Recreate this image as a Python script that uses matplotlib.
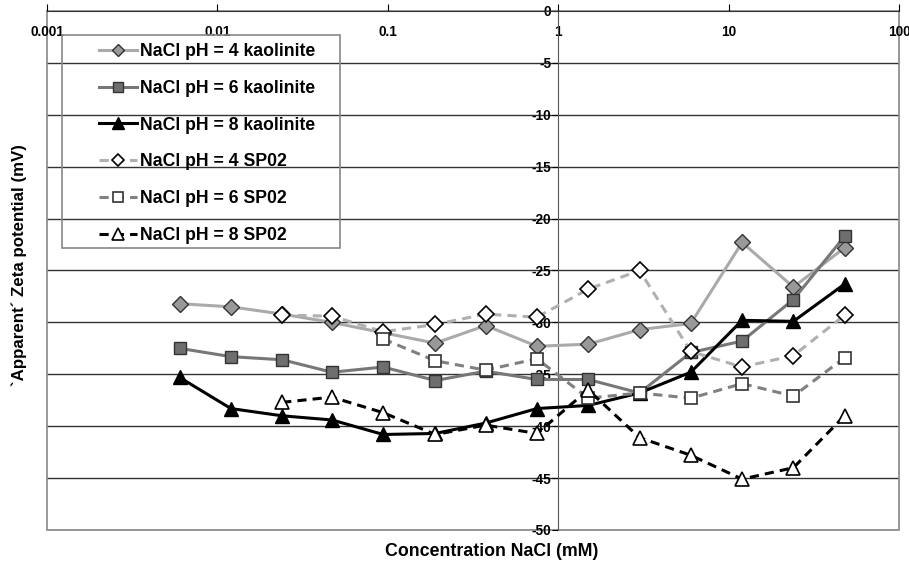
import matplotlib.pyplot as plt
from matplotlib.patches import Rectangle

plt.rcParams['font.family'] = ['Liberation Sans', 'DejaVu Sans']
plt.rcParams['font.weight'] = 'bold'

# NaCl concentration (mM), doubling series
conc = [0.006, 0.012, 0.024, 0.047, 0.094, 0.19, 0.375, 0.75, 1.5, 3, 6, 12, 24, 48]

kao_ph4 = [-28.2, -28.5, -29.2, -30.0, -31.0, -32.0, -30.3, -32.3, -32.1, -30.7, -30.1, -22.3, -26.6, -22.8]
kao_ph6 = [-32.5, -33.3, -33.6, -34.8, -34.3, -35.6, -34.7, -35.5, -35.5, -36.8, -32.9, -31.8, -27.8, -21.7]
kao_ph8 = [-35.3, -38.3, -39.0, -39.4, -40.8, -40.7, -39.7, -38.3, -38.0, -36.8, -34.8, -29.8, -29.9, -26.3]

# SP02 series start later in the concentration range
sp_ph4_x = conc[2:]
sp_ph4 = [-29.3, -29.4, -30.9, -30.2, -29.2, -29.5, -26.8, -25.0, -32.8, -34.3, -33.2, -29.3]
sp_ph6_x = conc[4:]
sp_ph6 = [-31.6, -33.7, -34.6, -33.5, -37.3, -36.8, -37.3, -35.9, -37.1, -33.4]
sp_ph8_x = conc[2:]
sp_ph8 = [-37.7, -37.2, -38.7, -40.8, -39.9, -40.7, -36.5, -41.1, -42.8, -45.1, -44.0, -39.0]

yticks = [0, -5, -10, -15, -20, -25, -30, -35, -40, -45, -50]
xticks = [0.001, 0.01, 0.1, 1, 10, 100]
xticklabels = ['0.001', '0.01', '0.1', '1', '10', '100']

W, H = 909, 564
fig = plt.figure(figsize=(W / 100, H / 100), dpi=100)
ax = fig.add_axes([0.0517, 0.0603, 0.9373, 0.9202])

ax.set_xscale('log')
ax.set_xlim(0.001, 100)
ax.set_ylim(-50, 0)

for y in yticks[1:]:
    ax.axhline(y, color='#333333', lw=1, zorder=1)

# plot area frame
ax.add_patch(Rectangle((0, 0), 1, 1, transform=ax.transAxes, fill=False,
                       edgecolor='#888888', lw=1.2, zorder=1, clip_on=False))

ax.plot(conc, kao_ph4, color='#aaaaaa', lw=2.2, marker='D', ms=8,
        mfc='#999999', mec='#333333', mew=1, label='NaCl pH = 4 kaolinite', zorder=3)
ax.plot(conc, kao_ph6, color='#777777', lw=2.2, marker='s', ms=9,
        mfc='#6e6e6e', mec='#333333', mew=1, label='NaCl pH = 6 kaolinite', zorder=3)
ax.plot(conc, kao_ph8, color='black', lw=2.2, marker='^', ms=10,
        mfc='black', mec='black', mew=1, label='NaCl pH = 8 kaolinite', zorder=3)
ax.plot(sp_ph4_x, sp_ph4, color='#b0b0b0', lw=2.2, ls=(0, (3, 2)), marker='D', ms=8,
        mfc='white', mec='black', mew=1.2, label='NaCl pH = 4 SP02', zorder=4)
ax.plot(sp_ph6_x, sp_ph6, color='#808080', lw=2.2, ls=(0, (3, 2)), marker='s', ms=9,
        mfc='white', mec='#333333', mew=1.2, label='NaCl pH = 6 SP02', zorder=4)
ax.plot(sp_ph8_x, sp_ph8, color='black', lw=2.2, ls=(0, (3, 2)), marker='^', ms=10,
        mfc='white', mec='black', mew=1.2, label='NaCl pH = 8 SP02', zorder=4)

# axes cross: y axis at x=1, x axis along y=0
for s in ['top', 'right']:
    ax.spines[s].set_visible(False)
ax.spines['left'].set_position(('data', 1))
ax.spines['bottom'].set_position(('data', 0))
ax.spines['left'].set_color('#555555')
ax.spines['bottom'].set_color('#333333')
ax.spines['left'].set_zorder(2)

ax.set_xticks(xticks)
ax.set_xticklabels(xticklabels)
ax.minorticks_off()
ax.set_yticks(yticks)
ax.set_yticklabels([str(v) for v in yticks])
ax.tick_params(axis='x', direction='in', length=5, pad=10, labelsize=9.8)
ax.tick_params(axis='y', direction='out', length=4, pad=1, labelsize=9.8)
for lbl in ax.get_xticklabels() + ax.get_yticklabels():
    lbl.set_fontweight('bold')

fig.text(492 / W, 0.023, 'Concentration NaCl (mM)', ha='center', va='center',
         fontsize=12.8, fontweight='bold')
fig.text(0.021, 0.53, '`Apparent´ Zeta potential (mV)', ha='center', va='center',
         rotation=90, fontsize=12.2, fontweight='bold')

# legend box drawn separately (wide left margin like the original)
fig.patches.append(Rectangle((62 / W, 1 - 248 / H), (340 - 62) / W, (248 - 35) / H,
                             transform=fig.transFigure, fill=False,
                             edgecolor='#888888', lw=1.2, zorder=5))
leg = ax.legend(loc='upper left', bbox_to_anchor=(99 / W, 1 - 43 / H),
                bbox_transform=fig.transFigure, borderaxespad=0, borderpad=0,
                fontsize=12.7, labelspacing=1.12, handlelength=2.15,
                markerscale=0.8, frameon=False, handletextpad=0.2)
for t in leg.get_texts():
    t.set_fontweight('bold')

fig.savefig('out.png', dpi=100)
